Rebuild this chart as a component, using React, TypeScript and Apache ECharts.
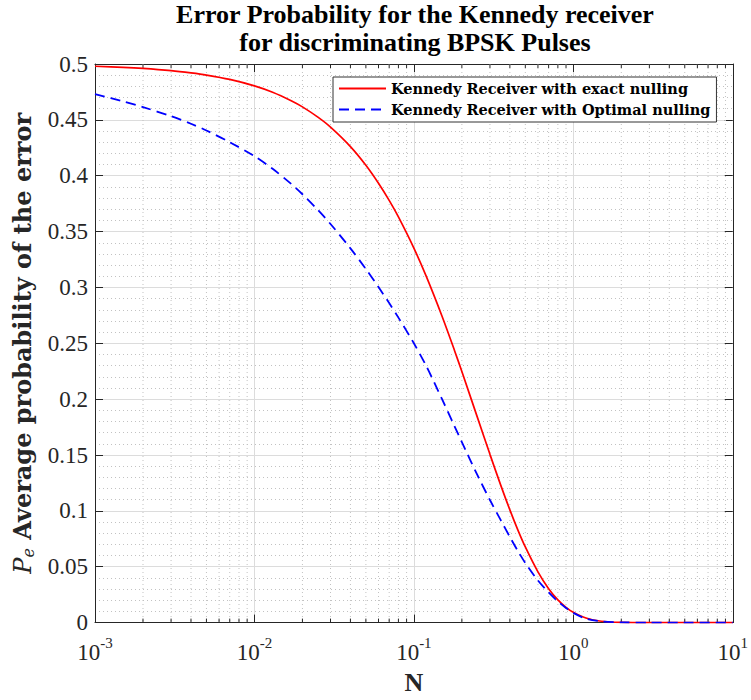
import React, { useEffect, useRef } from 'react';
import * as echarts from 'echarts';

// ---- Data ----
const photonNumbers = [0.001, 0.0015, 0.002, 0.003, 0.004, 0.005, 0.007, 0.01, 0.013, 0.017, 0.02, 0.025, 0.03, 0.04, 0.05, 0.06, 0.07, 0.08, 0.1, 0.12, 0.15, 0.18, 0.2, 0.25, 0.3, 0.35, 0.4, 0.45, 0.5, 0.6, 0.7, 0.8, 0.9, 1.0, 1.2, 1.5, 2, 3, 5, 10];
const exactNulling = [0.498, 0.497, 0.496, 0.494, 0.492, 0.4901, 0.4862, 0.4804, 0.4747, 0.4671, 0.4616, 0.4524, 0.4435, 0.4261, 0.4094, 0.3933, 0.3779, 0.3631, 0.3352, 0.3094, 0.2744, 0.2434, 0.2247, 0.1839, 0.1506, 0.1233, 0.1009, 0.0826, 0.0677, 0.0454, 0.0304, 0.0204, 0.0137, 0.0092, 0.0041, 0.0012, 0.0002, 0, 0, 0];
const optimalNulling = [0.473, 0.4666, 0.4614, 0.4533, 0.4465, 0.4405, 0.43, 0.4175, 0.4062, 0.3927, 0.3834, 0.3693, 0.3568, 0.335, 0.3165, 0.3003, 0.286, 0.273, 0.25, 0.2292, 0.2002, 0.1757, 0.1615, 0.1322, 0.1097, 0.0919, 0.0767, 0.0639, 0.0534, 0.0377, 0.027, 0.019, 0.0131, 0.0087, 0.0035, 0.0011, 0.0002, 0, 0, 0];
const seriesNames = ['Kennedy Receiver with exact nulling', 'Kennedy Receiver with Optimal nulling'];
const minorXTicks = [
  0.002, 0.003, 0.004, 0.005, 0.006, 0.007, 0.008, 0.009,
  0.02, 0.03, 0.04, 0.05, 0.06, 0.07, 0.08, 0.09,
  0.2, 0.3, 0.4, 0.5, 0.6, 0.7, 0.8, 0.9,
  2, 3, 4, 5, 6, 7, 8, 9,
];
const titleText = 'Error Probability for the Kennedy receiver\nfor discriminating BPSK Pulses';

const SERIF = 'Liberation Serif';
const CM = 'DejaVu Serif';
const AXIS = '#262626';
const GRID = '#dcdcdc';
const MINOR = '#c2c2c2';

function buildOption() {
  const exactData = photonNumbers.map((n, i) => [n, exactNulling[i]]);
  const optimalData = photonNumbers.map((n, i) => [n, optimalNulling[i]]);
  return {
    animation: false,
    backgroundColor: '#ffffff',
    textStyle: { fontFamily: SERIF },
    title: {
      text: titleText,
      left: 415,
      top: 0,
      textAlign: 'center',
      padding: 0,
      textStyle: { fontFamily: SERIF, fontWeight: 'bold', fontSize: 26, lineHeight: 28, color: '#000' },
    },
    legend: {
      orient: 'vertical',
      left: 333,
      top: 77,
      align: 'left',
      padding: [4, 6, 5, 5],
      itemGap: 6,
      itemWidth: 47,
      itemHeight: 14,
      backgroundColor: '#fff',
      borderColor: '#333',
      borderWidth: 1,
      borderRadius: 0,
      itemStyle: { opacity: 0 },
      formatter: (name: string) => `{n|${name}}`,
      textStyle: {
        fontFamily: CM,
        fontWeight: 'bold',
        fontSize: 14.5,
        color: '#000',
        rich: { n: { fontFamily: CM, fontWeight: 'bold', fontSize: 14.5, color: '#000', lineHeight: 14 } },
      },
      data: seriesNames,
    },
    grid: { left: 95, right: 15, top: 64, bottom: 71, containLabel: false },
    xAxis: [
      {
        type: 'log',
        logBase: 10,
        min: 0.001,
        max: 10,
        position: 'bottom',
        name: 'N',
        nameLocation: 'middle',
        nameGap: 45,
        nameTextStyle: { fontFamily: SERIF, fontWeight: 'bold', fontSize: 26, color: AXIS },
        axisLine: { show: true, onZero: false, lineStyle: { color: AXIS, width: 1 } },
        axisTick: { show: true, inside: true, length: 8, lineStyle: { color: AXIS } },
        axisLabel: {
          margin: 13,
          fontFamily: SERIF,
          formatter: (v: number) => `{b|10}{s|${Math.round(Math.log10(v))}}`,
          rich: {
            b: { fontFamily: SERIF, fontSize: 23, color: AXIS, lineHeight: 34 },
            s: { fontFamily: SERIF, fontSize: 15, color: AXIS, lineHeight: 15, verticalAlign: 'top' },
          },
        },
        splitLine: { show: true, lineStyle: { color: GRID, width: 1 } },
        minorTick: { show: false },
        minorSplitLine: { show: false },
      },
      {
        type: 'log',
        logBase: 10,
        min: 0.001,
        max: 10,
        position: 'top',
        axisLine: { show: true, onZero: false, lineStyle: { color: AXIS, width: 1 } },
        axisTick: { show: true, inside: true, length: 8, lineStyle: { color: AXIS } },
        axisLabel: { show: false },
        splitLine: { show: false },
      },
    ],
    yAxis: [
      {
        type: 'value',
        min: 0,
        max: 0.5,
        interval: 0.05,
        position: 'left',
        name: '{p|P}{e|e}{t| Average probability of the error}',
        nameLocation: 'middle',
        nameRotate: 90,
        nameGap: 58,
        nameTextStyle: {
          rich: {
            p: { fontFamily: CM, fontStyle: 'italic', fontSize: 24, color: AXIS, lineHeight: 28 },
            e: { fontFamily: CM, fontStyle: 'italic', fontSize: 16, color: AXIS, lineHeight: 16, verticalAlign: 'bottom' },
            t: { fontFamily: CM, fontWeight: 'bold', fontSize: 24, color: AXIS, lineHeight: 28 },
          },
        },
        axisLine: { show: true, onZero: false, lineStyle: { color: AXIS, width: 1 } },
        axisTick: { show: true, inside: true, length: 8, lineStyle: { color: AXIS } },
        axisLabel: {
          margin: 7,
          fontFamily: SERIF,
          fontSize: 23,
          color: AXIS,
          formatter: (v: number) => `{v|${v === 0 ? '0' : String(+v.toFixed(2))}}`,
          rich: { v: { fontFamily: SERIF, fontSize: 23, color: AXIS } },
        },
        splitLine: { show: true, lineStyle: { color: GRID, width: 1 } },
        minorTick: { show: false, splitNumber: 5 },
        minorSplitLine: { show: true, lineStyle: { color: MINOR, width: 1, type: [1, 3] } },
      },
      {
        type: 'value',
        min: 0,
        max: 0.5,
        interval: 0.05,
        position: 'right',
        axisLine: { show: true, onZero: false, lineStyle: { color: AXIS, width: 1 } },
        axisTick: { show: true, inside: true, length: 8, lineStyle: { color: AXIS } },
        axisLabel: { show: false },
        splitLine: { show: false },
      },
    ],
    series: [
      {
        type: 'custom',
        name: 'minor-grid',
        silent: true,
        z: 1,
        xAxisIndex: 0,
        yAxisIndex: 0,
        clip: false,
        data: minorXTicks.map((v) => [v, 0]),
        encode: { x: 0, y: 1 },
        renderItem: (params: any, api: any) => {
          const x = api.coord([api.value(0), 0])[0];
          const top = params.coordSys.y;
          const bottom = top + params.coordSys.height;
          return {
            type: 'group',
            children: [
              { type: 'line', shape: { x1: x, y1: top, x2: x, y2: bottom }, style: { stroke: MINOR, lineWidth: 1, lineDash: [1, 3] } },
              { type: 'line', shape: { x1: x, y1: bottom, x2: x, y2: bottom - 4 }, style: { stroke: AXIS, lineWidth: 1 } },
              { type: 'line', shape: { x1: x, y1: top, x2: x, y2: top + 4 }, style: { stroke: AXIS, lineWidth: 1 } },
            ],
          };
        },
      },
      {
        type: 'line',
        name: seriesNames[0],
        data: exactData,
        xAxisIndex: 0,
        yAxisIndex: 0,
        symbol: 'none',
        smooth: 0.3,
        z: 3,
        lineStyle: { color: '#ff0000', width: 1.7, type: 'solid' },
        itemStyle: { color: '#ff0000' },
      },
      {
        type: 'line',
        name: seriesNames[1],
        data: optimalData,
        xAxisIndex: 0,
        yAxisIndex: 0,
        symbol: 'none',
        smooth: 0.3,
        z: 4,
        lineStyle: { color: '#0000ff', width: 1.8, type: [10, 6] },
        itemStyle: { color: '#0000ff' },
      },
    ],
  };
}

export default function App() {
  const ref = useRef<HTMLDivElement>(null);
  useEffect(() => {
    if (!ref.current) return;
    const chart = echarts.init(ref.current, undefined, { renderer: 'svg' });
    chart.setOption(buildOption() as any);
    return () => chart.dispose();
  }, []);
  return (
    <div
      ref={ref}
      style={{ position: 'absolute', left: 0, top: 0, width: 751, height: 700, background: '#fff' }}
    />
  );
}
